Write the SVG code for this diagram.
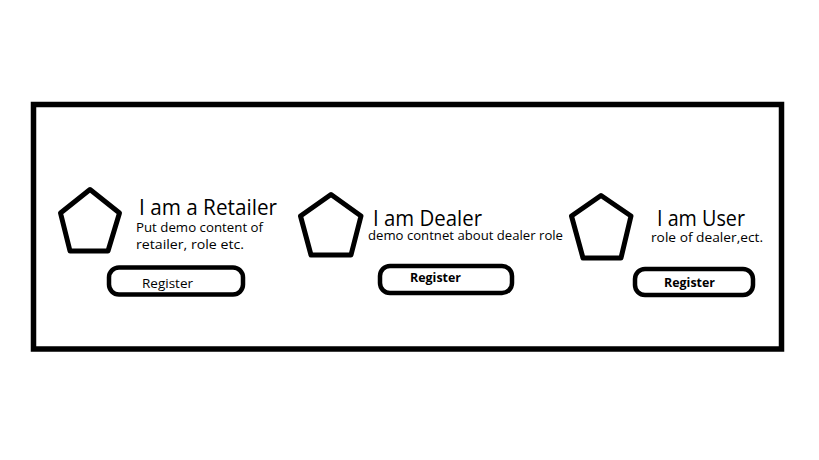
<svg xmlns="http://www.w3.org/2000/svg" width="819" height="460" viewBox="0 0 819 460">
<style>
.frame{fill:none;stroke:#000;stroke-width:5.5}
.pent{fill:#fff;stroke:#000;stroke-width:5;stroke-linejoin:round}
.btn{fill:#fff;stroke:#000;stroke-width:4.5}
.title{font-family:"Open Sans","DejaVu Sans",sans-serif;font-size:21px;fill:#000}
.body{font-family:"Open Sans","DejaVu Sans",sans-serif;font-size:13px;fill:#000}
.lbl{font-family:"Open Sans","DejaVu Sans",sans-serif;font-size:13px;fill:#000}
.lblb{font-family:"Open Sans","DejaVu Sans",sans-serif;font-size:13px;font-weight:bold;fill:#000}
</style>
<rect width="819" height="460" fill="#fff"/>
<rect class="frame" x="33.5" y="104.5" width="748" height="244.5"/>
<g id="retailer">
<polygon class="pent" points="90,189.5 119.5,213 108,251 70,251 60.5,213"/>
<text class="title" x="139" y="215" textLength="138" lengthAdjust="spacingAndGlyphs">I am a Retailer</text>
<text class="body" x="136" y="232" textLength="127" lengthAdjust="spacingAndGlyphs">Put demo content of</text>
<text class="body" x="136" y="249" textLength="108" lengthAdjust="spacingAndGlyphs">retailer, role etc.</text>
<rect class="btn" x="109" y="267.5" width="134" height="27" rx="10"/>
<text class="lbl" x="142" y="288" textLength="51" lengthAdjust="spacingAndGlyphs">Register</text>
</g>
<g id="dealer">
<polygon class="pent" points="331,194.5 361,216 351,255 311,255 300.5,216"/>
<text class="title" x="373" y="226" textLength="109" lengthAdjust="spacingAndGlyphs">I am Dealer</text>
<text class="body" x="368" y="240" textLength="195" lengthAdjust="spacingAndGlyphs">demo contnet about dealer role</text>
<rect class="btn" x="380" y="266" width="132" height="27" rx="10"/>
<text class="lblb" x="410" y="282" textLength="51" lengthAdjust="spacingAndGlyphs">Register</text>
</g>
<g id="user">
<polygon class="pent" points="601,195.5 631,216 621,258 583,258 571.5,216"/>
<text class="title" x="657" y="226" textLength="88" lengthAdjust="spacingAndGlyphs">I am User</text>
<text class="body" x="651" y="242" textLength="112" lengthAdjust="spacingAndGlyphs">role of dealer,ect.</text>
<rect class="btn" x="635" y="269" width="118" height="26" rx="10"/>
<text class="lblb" x="664" y="287" textLength="51" lengthAdjust="spacingAndGlyphs">Register</text>
</g>
<g id="connectors"></g>
</svg>
